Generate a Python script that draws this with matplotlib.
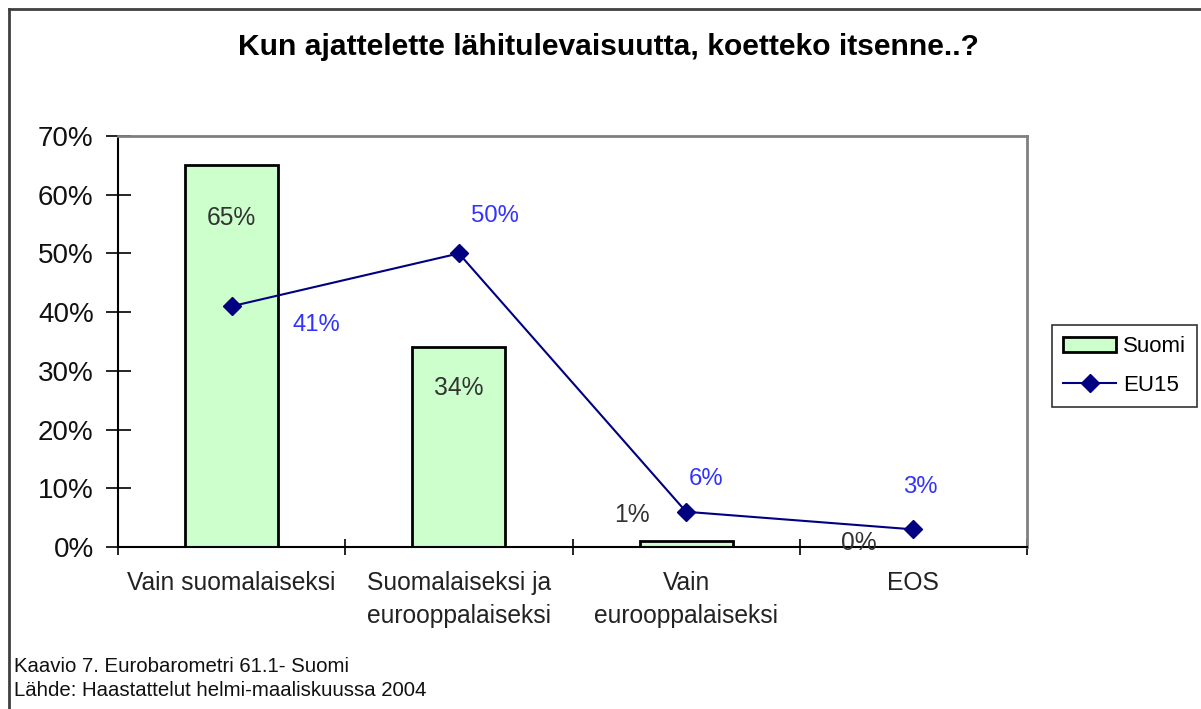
import matplotlib
matplotlib.use("Agg")
import matplotlib.pyplot as plt
from matplotlib.lines import Line2D
import numpy as np

plt.rcParams['font.family'] = ['Liberation Sans', 'DejaVu Sans']

title = "Kun ajattelette lähitulevaisuutta, koetteko itsenne..?"
categories = ["Vain suomalaiseksi", "Suomalaiseksi ja\neurooppalaiseksi",
              "Vain\neurooppalaiseksi", "EOS"]
suomi = [65, 34, 1, 0]
eu15 = [41, 50, 6, 3]
yticks = [0, 10, 20, 30, 40, 50, 60, 70]
footer1 = "Kaavio 7. Eurobarometri 61.1- Suomi"
footer2 = "Lähde: Haastattelut helmi-maaliskuussa 2004"

# label offsets in pixels (dx, dy) relative to the data point
suomi_off = [(0, -53), (0, -41), (-54, 26), (-55, 4)]
eu_off = [(85, -19), (36, 37), (20, 33), (7, 42)]

W, H = 1201, 709
fig = plt.figure(figsize=(W / 100, H / 100), dpi=100)
ax = fig.add_axes([118 / W, 1 - 547 / H, (1027 - 118) / W, (547 - 136) / H])

x = np.arange(len(categories))
bars = ax.bar(x, suomi, width=0.41, color="#CCFFCC", edgecolor="black",
              linewidth=2, label="Suomi", zorder=2)
line, = ax.plot(x, eu15, color="#000080", linewidth=1.5, marker="D",
                markersize=9.5, label="EU15", zorder=3)

ax.set_xlim(-0.5, len(categories) - 0.5)
ax.set_ylim(0, 70)
ax.set_yticks(yticks)
ax.set_yticklabels([f"{v}%" for v in yticks], fontsize=20, color="#111111")
ax.set_xticks(np.arange(len(categories) + 1) - 0.5)
ax.set_xticklabels([])
ax.set_xticks(x, minor=True)
ax.set_xticklabels(categories, minor=True, fontsize=17.7, color="#222222",
                   linespacing=1.5)
ax.tick_params(axis="x", which="minor", length=0, pad=17)
ax.tick_params(axis="x", which="major", direction="inout", length=12, width=1.2)
ax.tick_params(axis="y", direction="inout", length=18, width=1.2, pad=8.5)

for s in ["top", "right"]:
    ax.spines[s].set_color("#808080")
    ax.spines[s].set_linewidth(2)
for s in ["left", "bottom"]:
    ax.spines[s].set_color("black")
    ax.spines[s].set_linewidth(1.5)

px = 72 / 100
for xi, v, (dx, dy) in zip(x, suomi, suomi_off):
    ax.annotate(f"{v}%", (xi, v), xytext=(dx * px, dy * px), textcoords="offset points",
                ha="center", va="center", fontsize=17.7, color="#333333")
for xi, v, (dx, dy) in zip(x, eu15, eu_off):
    ax.annotate(f"{v}%", (xi, v), xytext=(dx * px, dy * px), textcoords="offset points",
                ha="center", va="center", fontsize=17.2, color="#3333FF")

fig.text(0.5 * (238 + 979) / W, 1 - 47 / H, title, ha="center", va="center",
         fontsize=21.6, fontweight="bold", color="black")

fig.text(14 / W, 1 - 666 / H, footer1, ha="left", va="center", fontsize=14.7, color="#111111")
fig.text(14 / W, 1 - 691 / H, footer2, ha="left", va="center", fontsize=14.7, color="#111111")

leg = fig.legend(handles=[bars, line], labels=["Suomi", "EU15"],
                 loc="upper left", bbox_to_anchor=(1052 / W, 1 - 325 / H),
                 fontsize=16, frameon=True, fancybox=False, borderpad=0.5,
                 handlelength=2.4, handletextpad=0.3, labelspacing=0.8,
                 borderaxespad=0)
leg.get_frame().set_edgecolor("black")
leg.get_frame().set_linewidth(1.2)

# outer frame (top and left)
fig.add_artist(Line2D([9 / W, 9 / W], [0, 1 - 9 / H], color="#404040", linewidth=2,
                      transform=fig.transFigure))
fig.add_artist(Line2D([9 / W, 1], [1 - 9 / H, 1 - 9 / H], color="#404040", linewidth=2,
                      transform=fig.transFigure))

fig.savefig("out.png", dpi=100)
